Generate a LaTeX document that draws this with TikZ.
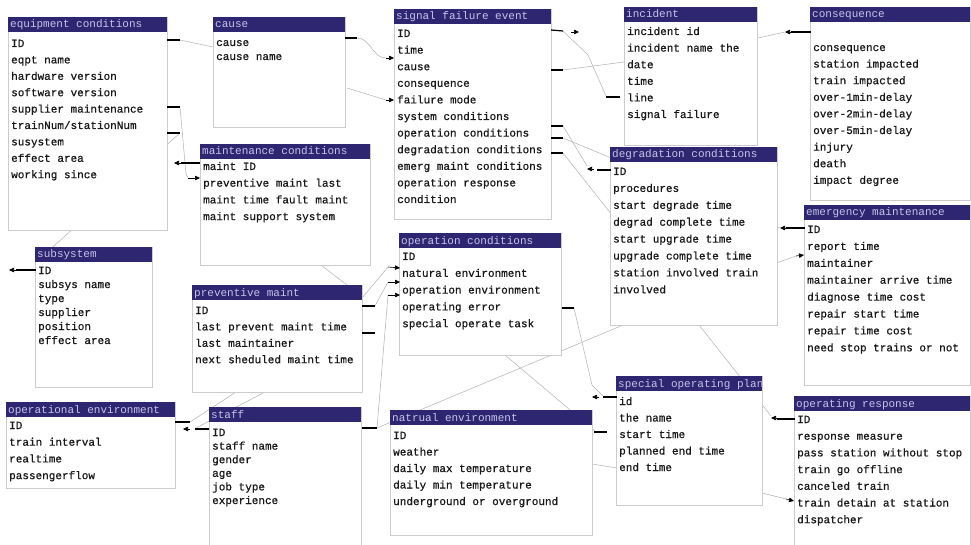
\documentclass[tikz,border=0pt]{standalone}
\usepackage{fontspec}
\newfontfamily\erfont[FakeBold=0.7]{Liberation Mono}
\newfontfamily\hdfont{Liberation Mono}
\usetikzlibrary{arrows.meta}
\definecolor{hdrfill}{RGB}{46,38,112}
\definecolor{hdrtext}{RGB}{200,195,235}
\definecolor{txt}{RGB}{25,25,25}
\begin{document}
\begin{tikzpicture}[x=1pt,y=-1pt,
  link/.style={draw=gray!60, line width=0.5pt},
  stub/.style={draw=black, line width=1.2pt},
  tip/.style={-{Triangle[length=5pt,width=4.5pt]}, draw=black, line width=0.6pt},
  frame/.style={draw=gray!40, fill=white, line width=0.6pt},
  hdrtext/.style={font=\hdfont\fontsize{11}{13}\selectfont, text=hdrtext, inner sep=0pt, anchor=base west},
  item/.style={font=\erfont\fontsize{11}{13}\selectfont, text=txt, inner sep=0pt, anchor=base west},
]
\useasboundingbox[fill=white] (0,0) rectangle (971,545);

% entity box: name, x, top, width, bottom, title, first row y, row step, rows
\newcommand\erbox[9]{%
  \draw[frame] (#2,#3) rectangle (#2+#4,#5);
  \fill[hdrfill] (#2,#3) rectangle (#2+#4,#3+15);
  \node[hdrtext] (#1) at (#2+2,#3+11) {#6};
  \foreach \t [count=\i from 0] in {#9}
    \node[item] (#1-\i) at (#2+3,#7+\i*#8+4) {\t};
}

% ---------- link end points ----------
\coordinate (eqA) at (180,40);   \coordinate (caA) at (213,47);
\coordinate (eqB) at (180,107);  \coordinate (mnB) at (188,178);
\coordinate (eqC) at (180,133);  \coordinate (sbC) at (36,262);
\coordinate (caD) at (357,38);   \coordinate (sfD) at (386,58);
\coordinate (caE) at (347,88);   \coordinate (sfE) at (386,100);
\coordinate (sfF) at (563,31);   \coordinate (inF) at (606,96);
\coordinate (sfG) at (563,70);   \coordinate (inG) at (624,62);
\coordinate (inH) at (758,38);   \coordinate (csH) at (785,32);
\coordinate (sfI) at (563,126);  \coordinate (dgI) at (587,166);
\coordinate (sfJ) at (563,138);  \coordinate (emJ) at (780,228);
\coordinate (sfK) at (563,153);  \coordinate (orK) at (771,416);
\coordinate (dgL) at (757,270);  \coordinate (emL) at (796,256);
\coordinate (ocM) at (574,308);  \coordinate (spM) at (603,396);
\coordinate (ocN) at (505,355);  \coordinate (ntN) at (595,431);
\coordinate (ntO) at (592,464);  \coordinate (spO) at (617,468);
\coordinate (spP) at (762,493);  \coordinate (orP) at (786,499);
\coordinate (pvQ) at (375,306);  \coordinate (ocQ) at (388,282);
\coordinate (pvR) at (362,298);  \coordinate (ocR) at (388,267);
\coordinate (mnS) at (317,262);  \coordinate (pvS) at (347,285);
\coordinate (stT) at (377,428);  \coordinate (ocT) at (388,295);
\coordinate (dgU) at (640,318);
\coordinate (pvV) at (236,392);  \coordinate (oeV) at (190,422);
\coordinate (pvW) at (265,392);  \coordinate (stW) at (196,428);

% ---------- grey links (drawn under the boxes) ----------
\draw[link] (eqA) -- (caA);
\draw[link] (eqB) -- (186,174) -- (mnB);
\draw[link] (eqC) -- (sbC);
\draw[link] (caD) to[out=0,in=180] (sfD);
\draw[link] (caE) -- (sfE);
\draw[link] (sfF) -- (588,55) -- (inF);
\draw[link] (sfG) -- (inG);
\draw[link] (inH) -- (csH);
\draw[link] (sfI) -- (dgI);
\draw[link] (sfJ) -- (emJ);
\draw[link] (sfK) -- (orK);
\draw[link] (dgL) -- (emL);
\draw[link] (ocM) -- (592,385) -- (spM);
\draw[link] (ocN) -- (ntN);
\draw[link] (ntO) -- (spO);
\draw[link] (spP) -- (orP);
\draw[link] (pvQ) -- (ocQ);
\draw[link] (pvR) -- (ocR);
\draw[link] (mnS) -- (pvS);
\draw[link] (stT) -- (ocT);
\draw[link] (stT) -- (dgU);
\draw[link] (pvV) -- (oeV);
\draw[link] (pvW) -- (stW);

% ---------- entities ----------
\erbox{eq}{8}{17}{159}{230}{equipment conditions}{43}{16.4}{ID,eqpt name,hardware version,software version,supplier maintenance,trainNum/stationNum,susystem,effect area,working since}
\erbox{cause}{213}{17}{132}{127}{cause}{42}{14}{cause,cause name}
\erbox{sfe}{394}{9}{157}{219}{signal failure event}{33}{16.6}{ID,time,cause,consequence,failure mode,system conditions,operation conditions,degradation conditions,emerg maint conditions,operation response,condition}
\erbox{inc}{624}{7}{133}{145}{incident}{31}{16.6}{incident id,incident name the,date,time,line,signal failure}
\erbox{csq}{810}{7}{160}{200}{consequence}{47}{16.6}{consequence,station impacted,train impacted,over-1min-delay,over-2min-delay,over-5min-delay,injury,death,impact degree}
\erbox{mnt}{200}{144}{170}{265}{maintenance conditions}{166}{16.7}{maint ID,preventive maint last,maint time fault maint,maint support system}
\erbox{deg}{610}{147}{167}{325}{degradation conditions}{171}{16.9}{ID,procedures,start degrade time,degrad complete time,start upgrade time,upgrade complete time,station involved train,involved}
\erbox{emg}{804}{205}{166}{385}{emergency maintenance}{229}{16.9}{ID,report time,maintainer,maintainer arrive time,diagnose time cost,repair start time,repair time cost,need stop trains or not}
\erbox{sub}{35}{247}{117}{387}{subsystem}{270}{14}{ID,subsys name,type,supplier,position,effect area}
\erbox{prv}{192}{285}{170}{392}{preventive maint}{310}{16.4}{ID,last prevent maint time,last maintainer,next sheduled maint time}
\erbox{opc}{399}{233}{162}{355}{operation conditions}{256}{16.8}{ID,natural environment,operation environment,operating error,special operate task}
\erbox{oen}{6}{402}{169}{488}{operational environment}{425}{16.7}{ID,train interval,realtime,passengerflow}
\erbox{stf}{209}{407}{152}{545}{staff}{432}{13.6}{ID,staff name,gender,age,job type,experience}
\erbox{nat}{390}{410}{202}{535}{natrual environment}{435}{16.5}{ID,weather,daily max temperature,daily min temperature,underground or overground}
\erbox{spo}{616}{376}{146}{505}{special operating plan}{401}{16.5}{id,the name,start time,planned end time,end time}
\erbox{orp}{794}{396}{176}{545}{operating response}{419}{16.7}{ID,response measure,pass station without stop,train go offline,canceled train,train detain at station,dispatcher}

% ---------- black end marks ----------
\draw[stub] (167,40) -- (eqA);
\draw[stub] (167,107) -- (eqB);
\draw[stub] (167,133) -- (eqC);
\draw[tip] (182,163) -- (174,163);
\draw[stub] (181,163) -- (200,163);
\draw[tip] (mnB) -- (200,178);
\draw[tip] (16,270) -- (9,270);
\draw[stub] (16,270) -- (36,270);
\draw[stub] (345,38) -- (caD);
\draw[tip] (sfD) -- (394,58);
\draw[tip] (sfE) -- (394,100);
\draw[stub] (551,30) -- (sfF);
\draw[tip] (571,32) -- (579,32);
\draw[stub] (551,70) -- (sfG);
\draw[stub] (606,97) -- (620,97);
\draw[tip] (csH) ++(6,0) -- (csH);
\draw[stub] (791,32) -- (811,32);
\draw[stub] (551,126) -- (sfI);
\draw[stub] (551,138) -- (sfJ);
\draw[stub] (551,153) -- (sfK);
\draw[tip] (594,169) -- (587,169);
\draw[stub] (597,170) -- (611,170);
\draw[tip] (787,228) -- (780,228);
\draw[stub] (786,228) -- (805,228);
\draw[tip] (emL) -- (804,255);
\draw[stub] (562,308) -- (ocM);
\draw[tip] (599,397) -- (592,397);
\draw[stub] (603,397) -- (617,397);
\draw[stub] (594,432) -- (607,432);
\draw[tip] (orP) -- (794,501);
\draw[tip] (778,418) -- (771,418);
\draw[stub] (777,419) -- (795,419);
\draw[stub] (362,306) -- (pvQ);
\draw[stub] (362,333) -- (375,333);
\draw[tip] (ocQ) -- (400,282);
\draw[tip] (ocR) -- (400,268);
\draw[tip] (ocT) -- (400,295);
\draw[stub] (362,428) -- (stT);
\draw[stub] (175,422) -- (oeV);
\draw[tip] (190,429) -- (183,429);
\draw[stub] (195,429) -- (209,429);
\end{tikzpicture}
\end{document}
